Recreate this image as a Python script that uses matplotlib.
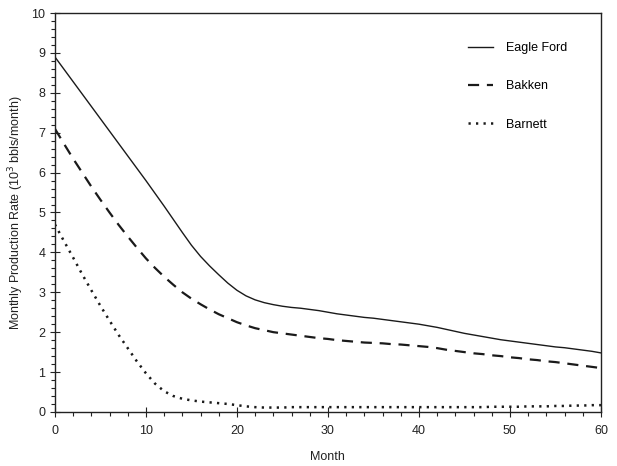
import numpy as np
import matplotlib.pyplot as plt
from matplotlib.ticker import MultipleLocator

plt.rcParams['font.family'] = ['Liberation Sans', 'DejaVu Sans']

month = np.arange(0, 61)
eagle_ford = [8.90, 8.59, 8.28, 7.97, 7.66, 7.35, 7.04, 6.73, 6.42, 6.11,
              5.80, 5.48, 5.16, 4.83, 4.50, 4.18, 3.90, 3.66, 3.44, 3.23,
              3.05, 2.91, 2.81, 2.74, 2.69, 2.65, 2.62, 2.60, 2.57, 2.54,
              2.50, 2.46, 2.43, 2.40, 2.37, 2.35, 2.32, 2.29, 2.26, 2.23,
              2.20, 2.16, 2.12, 2.07, 2.02, 1.97, 1.93, 1.89, 1.85, 1.81,
              1.78, 1.75, 1.72, 1.69, 1.66, 1.63, 1.61, 1.58, 1.55, 1.52, 1.48]
bakken = [7.10, 6.72, 6.35, 6.00, 5.65, 5.32, 5.00, 4.69, 4.40, 4.12,
          3.85, 3.61, 3.39, 3.19, 3.00, 2.84, 2.70, 2.57, 2.45, 2.35,
          2.25, 2.17, 2.10, 2.05, 2.00, 1.97, 1.94, 1.91, 1.88, 1.85,
          1.83, 1.80, 1.78, 1.76, 1.74, 1.73, 1.72, 1.70, 1.69, 1.67,
          1.65, 1.63, 1.60, 1.56, 1.53, 1.50, 1.47, 1.45, 1.42, 1.40,
          1.37, 1.35, 1.32, 1.30, 1.27, 1.25, 1.22, 1.19, 1.16, 1.13, 1.10]
barnett = [4.70, 4.28, 3.87, 3.45, 3.05, 2.66, 2.29, 1.93, 1.60, 1.27,
           0.97, 0.71, 0.52, 0.40, 0.33, 0.29, 0.26, 0.24, 0.22, 0.20,
           0.17, 0.14, 0.12, 0.11, 0.11, 0.11, 0.12, 0.12, 0.12, 0.12,
           0.12, 0.12, 0.12, 0.12, 0.12, 0.12, 0.12, 0.12, 0.12, 0.12,
           0.12, 0.12, 0.12, 0.12, 0.12, 0.12, 0.12, 0.12, 0.13, 0.13,
           0.13, 0.13, 0.14, 0.14, 0.14, 0.15, 0.15, 0.16, 0.16, 0.17, 0.17]

fig = plt.figure(figsize=(6.17, 4.66), dpi=100)
ax = fig.add_axes([0.089, 0.116, 0.885, 0.856])

ax.plot(month, eagle_ford, color='#1a1a1a', lw=1.0, label='Eagle Ford')
ax.plot(month, bakken, color='#1a1a1a', lw=1.6, ls=(0, (5, 3.5)), label='Bakken')
ax.plot(month, barnett, color='#1a1a1a', lw=1.8, ls=(0, (0.9, 2.1)), label='Barnett')

ax.set_xlim(0, 60)
ax.set_ylim(0, 10)
ax.xaxis.set_major_locator(MultipleLocator(10))
ax.xaxis.set_minor_locator(MultipleLocator(2))
ax.yaxis.set_major_locator(MultipleLocator(1))
ax.yaxis.set_minor_locator(MultipleLocator(0.2))
ax.tick_params(which='major', direction='inout', length=7, width=0.8, labelsize=9, colors='#222222')
ax.tick_params(which='minor', direction='out', length=3, width=0.8, color='#222222')
ax.tick_params(top=False, right=False, which='both')
ax.tick_params(axis='x', pad=6)
for s in ax.spines.values():
    s.set_color('#222222')
    s.set_linewidth(1.0)

ax.set_xlabel('Month', fontsize=9, labelpad=10, color='#222222')
ax.set_ylabel('Monthly Production Rate (10$^3$ bbls/month)', fontsize=9, color='#222222')

ax.legend(loc='upper right', frameon=False, fontsize=9, handlelength=2.0,
          handletextpad=1.0, labelspacing=2.1, bbox_to_anchor=(0.958, 0.955))

fig.savefig('out.png', dpi=100)
